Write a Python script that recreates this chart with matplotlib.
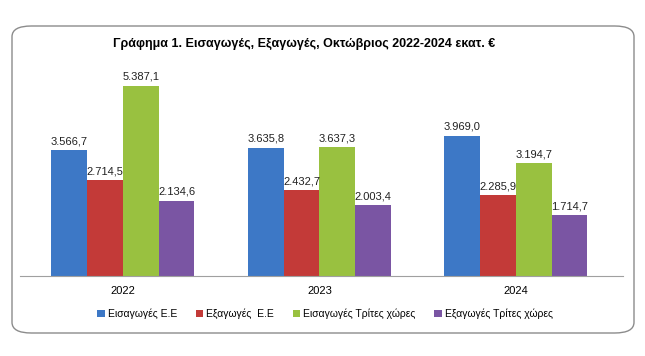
import matplotlib.pyplot as plt
import numpy as np
from matplotlib.patches import FancyBboxPatch

years = ['2022', '2023', '2024']
series = ['Εισαγωγές Ε.Ε', 'Εξαγωγές  Ε.Ε', 'Εισαγωγές Τρίτες χώρες', 'Εξαγωγές Τρίτες χώρες']
imports_eu = [3566.7, 3635.8, 3969.0]
exports_eu = [2714.5, 2432.7, 2285.9]
imports_third = [5387.1, 3637.3, 3194.7]
exports_third = [2134.6, 2003.4, 1714.7]
colors = ['#3D78C6', '#C33A38', '#99C140', '#7A55A3']

plt.rcParams['font.family'] = ['Liberation Sans', 'DejaVu Sans']


def fmt(v):
    # greek number format: 3.566,7
    s = f'{v:,.1f}'
    return s.replace(',', 'X').replace('.', ',').replace('X', '.')


fig = plt.figure(figsize=(6.45, 3.56), dpi=100)

# rounded frame around the chart
frame = FancyBboxPatch((12 / 645, 1 - 333 / 356), 622 / 645, 307 / 356,
                       boxstyle='round,pad=0,rounding_size=0.03',
                       transform=fig.transFigure, facecolor='white',
                       edgecolor='#8c8c8c', linewidth=1.0, zorder=-5)
fig.patches.append(frame)

ax = fig.add_axes([20 / 645, 1 - 276 / 356, 603 / 645, 212 / 356])
ax.set_zorder(2)
ax.set_facecolor('none')

x = np.arange(len(years))
w = 0.182
data = [imports_eu, exports_eu, imports_third, exports_third]
for i, vals in enumerate(data):
    pos = x + (i - 1.5) * w
    ax.bar(pos, vals, width=w, color=colors[i], label=series[i], zorder=2)
    for p, v in zip(pos, vals):
        ax.text(p, v + 110, fmt(v), ha='center', va='bottom', fontsize=8, color='#222222')

ax.set_xlim(-0.524, 2.545)
ax.set_ylim(0, 6000)
ax.set_xticks(x)
ax.set_xticklabels(years, fontsize=8)
ax.tick_params(axis='x', length=0, pad=7)
ax.set_yticks([])
for s in ['top', 'right', 'left']:
    ax.spines[s].set_visible(False)
ax.spines['bottom'].set_color('#a0a0a0')

fig.text(304 / 645, 1 - 44 / 356, 'Γράφημα 1. Εισαγωγές, Εξαγωγές, Οκτώβριος 2022-2024 εκατ. €',
         ha='center', va='center', fontsize=9, fontweight='bold', zorder=3)

leg = fig.legend(loc='center', bbox_to_anchor=(325 / 645, 1 - 314 / 356), ncol=4, frameon=False,
                 fontsize=7.5, handlelength=0.7, handleheight=0.7, handletextpad=0.3,
                 columnspacing=1.8)
leg.set_zorder(3)

fig.savefig('out.png', dpi=100)
